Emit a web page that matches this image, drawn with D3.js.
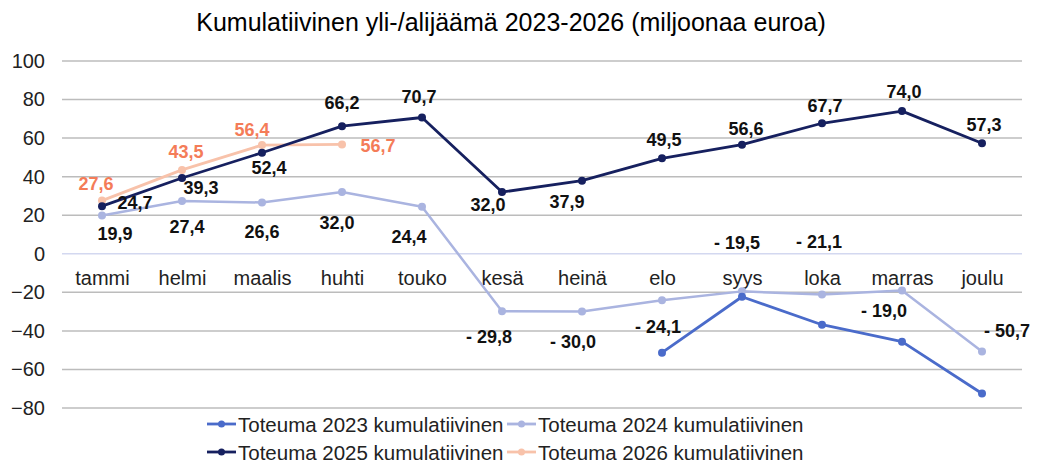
<!DOCTYPE html>
<html>
<head>
<meta charset="utf-8">
<script src="https://cdn.jsdelivr.net/npm/d3@7"></script>
<style>
  body { margin: 0; background: #fff; }
  text { font-family: "Liberation Sans", Arial, sans-serif; }
</style>
</head>
<body>
<div id="chart-area"></div>
<script>
// SVG size
var width = 1038,
	height = 465;

// Data
var months = ["tammi", "helmi", "maalis", "huhti", "touko", "kesä", "heinä", "elo", "syys", "loka", "marras", "joulu"];
var yTicks = [-80, -60, -40, -20, 0, 20, 40, 60, 80, 100];

var toteuma2023 = [null, null, null, null, null, null, null, -51.3, -22.3, -36.8, -45.6, -72.5];
var toteuma2024 = [19.9, 27.4, 26.6, 32.0, 24.4, -29.8, -30.0, -24.1, -19.5, -21.1, -19.0, -50.7];
var toteuma2025 = [24.7, 39.3, 52.4, 66.2, 70.7, 32.0, 37.9, 49.5, 56.6, 67.7, 74.0, 57.3];
var toteuma2026 = [27.6, 43.5, 56.4, 56.7];

var seriesNames = ["Toteuma 2023 kumulatiivinen", "Toteuma 2024 kumulatiivinen",
	"Toteuma 2025 kumulatiivinen", "Toteuma 2026 kumulatiivinen"];

// label offsets (pixels) from each point, hand-placed like in the original
var labelOffsets2024 = [[13, 19], [5, 26], [0, 30], [-5, 31], [-13, 30], [-13, 26], [-9, 30], [-4, 27], [-5, -48], [-3, -52], [-18, 21], [25, -21]];
var labelOffsets2025 = [[33, -3], [19, 10], [7, 15], [0, -23], [-3, -20], [-14, 13], [-15, 21], [2, -18], [4, -16], [3, -17], [2, -19], [2, -18]];
var labelOffsets2026 = [[-6, -17], [4, -18], [-10, -15], [36, 2]];

var svg = d3.select("#chart-area")
	.append("svg")
	.attr("width", width)
	.attr("height", height);

var x = d3.scalePoint()
	.domain(months)
	.range([62, 1022])
	.padding(0.5);

var y = d3.scaleLinear()
	.domain([-80, 100])
	.range([408, 61]);

// title
svg.append("text")
	.attr("x", 511)
	.attr("y", 31)
	.attr("text-anchor", "middle")
	.style("font-size", "25px")
	.style("fill", "#000")
	.text("Kumulatiivinen yli-/alijäämä 2023-2026 (miljoonaa euroa)");

// gridlines
svg.append("g")
	.selectAll("line")
	.data(yTicks)
	.enter()
	.append("line")
	.attr("x1", 62)
	.attr("x2", 1022)
	.attr("y1", function(d){ return y(d); })
	.attr("y2", function(d){ return y(d); })
	.attr("stroke", function(d){ return d === 0 ? "#d3d8f0" : "#bcbcbc"; })
	.attr("stroke-width", 1.5);

// y axis
var yAxis = d3.axisLeft(y).tickValues(yTicks).tickSize(0).tickPadding(0);
var yg = svg.append("g")
	.attr("transform", "translate(45,0)")
	.call(yAxis);
yg.select(".domain").remove();
yg.selectAll("text")
	.style("font-size", "20px")
	.style("fill", "#222")
	.style("font-family", "'Liberation Sans', Arial, sans-serif");

// x axis (month names just below zero line)
var xAxis = d3.axisBottom(x).tickSize(0).tickPadding(0);
var xg = svg.append("g")
	.attr("transform", "translate(0," + (y(0) + 17) + ")")
	.call(xAxis);
xg.select(".domain").remove();
xg.selectAll("text")
	.style("font-size", "20px")
	.style("fill", "#222")
	.style("font-family", "'Liberation Sans', Arial, sans-serif");

function toPoints(values) {
	var pts = [];
	values.forEach(function(v, i){
		if (v !== null && v !== undefined) pts.push({ m: months[i], v: v });
	});
	return pts;
}

var line = d3.line()
	.x(function(d){ return x(d.m); })
	.y(function(d){ return y(d.v); });

function drawSeries(values, color, lw) {
	var pts = toPoints(values);
	svg.append("path")
		.datum(pts)
		.attr("d", line)
		.attr("fill", "none")
		.attr("stroke", color)
		.attr("stroke-width", lw)
		.attr("stroke-linejoin", "round");
	svg.append("g")
		.selectAll("circle")
		.data(pts)
		.enter()
		.append("circle")
		.attr("cx", function(d){ return x(d.m); })
		.attr("cy", function(d){ return y(d.v); })
		.attr("r", 4)
		.attr("fill", color);
}

var colors = ["#4a6bca", "#aab4e0", "#16205f", "#f8c2aa"];

drawSeries(toteuma2024, colors[1], 2.5);
drawSeries(toteuma2023, colors[0], 2.8);
drawSeries(toteuma2026, colors[3], 2.8);
drawSeries(toteuma2025, colors[2], 2.8);

function fmt(v) {
	var s = Math.abs(v).toFixed(1).replace(".", ",");
	return v < 0 ? "- " + s : s;
}

function drawLabels(values, offsets, color) {
	svg.append("g")
		.selectAll("text")
		.data(values)
		.enter()
		.append("text")
		.attr("x", function(d, i){ return x(months[i]) + offsets[i][0]; })
		.attr("y", function(d, i){ return y(d) + offsets[i][1]; })
		.attr("text-anchor", "middle")
		.attr("dominant-baseline", "central")
		.style("font-size", "18px")
		.style("font-weight", "bold")
		.style("fill", color)
		.text(function(d){ return fmt(d); });
}

drawLabels(toteuma2024, labelOffsets2024, "#111");
drawLabels(toteuma2025, labelOffsets2025, "#111");
drawLabels(toteuma2026, labelOffsets2026, "#f47c58");

// legend
var legendPos = [[207, 424], [507, 424], [207, 452], [507, 452]];
var legend = svg.append("g")
	.selectAll("g")
	.data(seriesNames)
	.enter()
	.append("g")
	.attr("transform", function(d, i){ return "translate(" + legendPos[i][0] + "," + legendPos[i][1] + ")"; });

legend.append("line")
	.attr("x1", 0).attr("x2", 29)
	.attr("y1", 0).attr("y2", 0)
	.attr("stroke", function(d, i){ return colors[i]; })
	.attr("stroke-width", 2.8);
legend.append("circle")
	.attr("cx", 14.5).attr("cy", 0).attr("r", 3.5)
	.attr("fill", function(d, i){ return colors[i]; });
legend.append("text")
	.attr("x", 31)
	.attr("y", 0)
	.attr("dominant-baseline", "central")
	.style("font-size", "20.5px")
	.style("fill", "#222")
	.text(function(d){ return d; });
</script>
</body>
</html>
